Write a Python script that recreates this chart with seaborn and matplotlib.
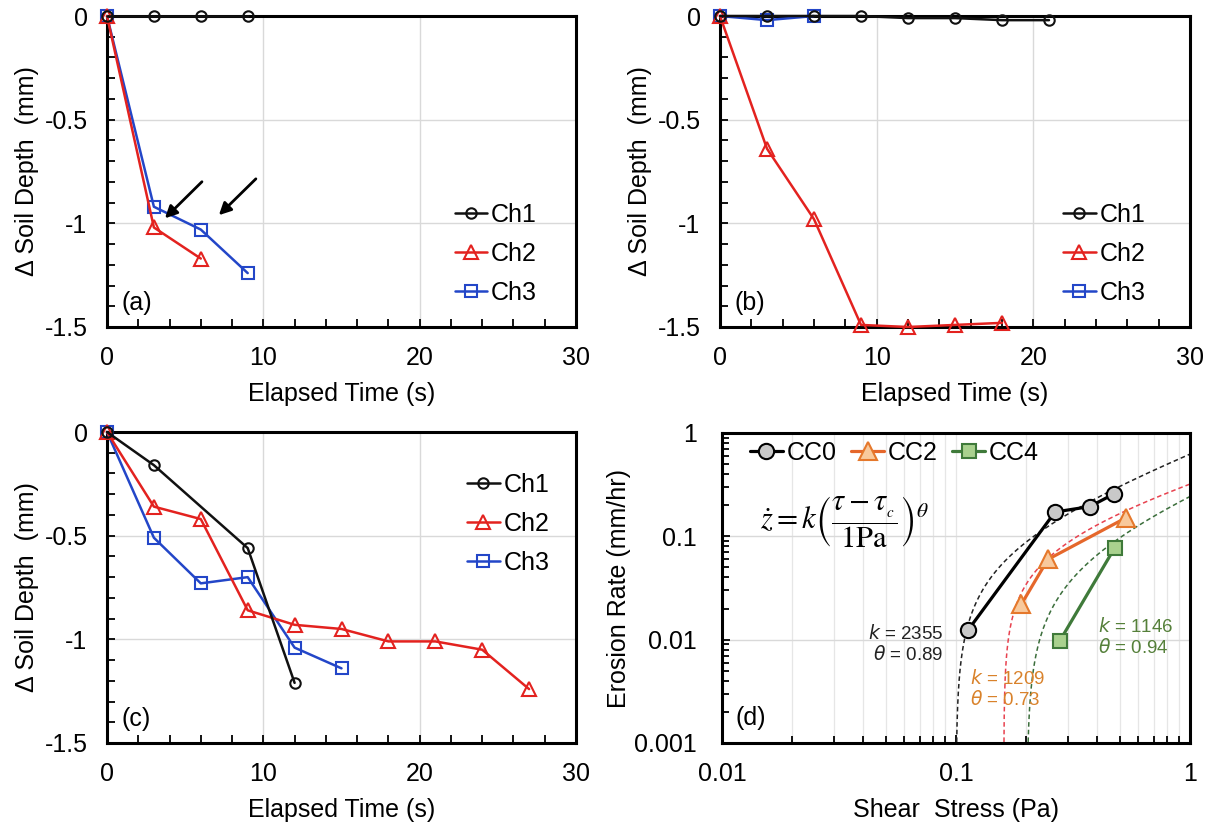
import numpy as np
import matplotlib
matplotlib.use("Agg")
import matplotlib.pyplot as plt
import matplotlib.ticker as mticker
import seaborn as sns

# ---------------- data ----------------
# panel (a)
a_t1 = [0, 3, 6, 9];        a_ch1 = [0, 0, 0, 0]
a_t2 = [0, 3, 6];           a_ch2 = [0, -1.02, -1.17]
a_t3 = [0, 3, 6, 9];        a_ch3 = [0, -0.92, -1.03, -1.24]
# panel (b)
b_t1 = [0, 3, 6, 9, 12, 15, 18, 21]; b_ch1 = [0, 0, 0, 0, -0.01, -0.01, -0.02, -0.02]
b_t2 = [0, 3, 6, 9, 12, 15, 18];     b_ch2 = [0, -0.64, -0.98, -1.49, -1.50, -1.49, -1.48]
b_t3 = [0, 3, 6];                    b_ch3 = [0, -0.02, 0]
# panel (c)
c_t1 = [0, 3, 9, 12];                c_ch1 = [0, -0.16, -0.56, -1.21]
c_t2 = [0, 3, 6, 9, 12, 15, 18, 21, 24, 27]
c_ch2 = [0, -0.36, -0.42, -0.86, -0.93, -0.95, -1.01, -1.01, -1.05, -1.24]
c_t3 = [0, 3, 6, 9, 12, 15];         c_ch3 = [0, -0.51, -0.73, -0.70, -1.04, -1.14]
# panel (d)
cc0_tau = [0.113, 0.265, 0.373, 0.474]; cc0_rate = [0.0125, 0.172, 0.194, 0.258]
cc2_tau = [0.190, 0.247, 0.535];        cc2_rate = [0.0219, 0.0598, 0.152]
cc4_tau = [0.277, 0.477];               cc4_rate = [0.00964, 0.0776]
# fitted excess-shear model curves: rate = A * (tau - tau_c)^theta
fit_names = ["CC0", "CC2", "CC4"]
fit_k = [2355, 1209, 1146]
fit_theta = [0.89, 0.73, 0.94]
fit_tau_c = [0.100, 0.160, 0.201]
fit_A = [0.686, 0.364, 0.300]

# ---------------- style ----------------
sns.set_style("white")
plt.rcParams["font.family"] = ["Liberation Sans", "DejaVu Sans"]
plt.rcParams["font.size"] = 18
for key in ["text.color", "axes.labelcolor", "xtick.color", "ytick.color"]:
    plt.rcParams[key] = "black"

BLACK = "#111111"
RED = "#e3221f"
BLUE = "#2346c8"
FS = 18

fig = plt.figure(figsize=(12.12, 8.25), dpi=100)
W, H = 1212, 825
def rect(l, r, t, b):
    return [l / W, 1 - b / H, (r - l) / W, (b - t) / H]

ax_a = fig.add_axes(rect(107, 576, 16, 327))
ax_b = fig.add_axes(rect(720, 1190, 16, 327))
ax_c = fig.add_axes(rect(107, 576, 432, 743))
ax_d = fig.add_axes(rect(722, 1190, 433, 743))


def style_lin(ax, letter):
    ax.set_xlim(0, 30)
    ax.set_ylim(-1.5, 0)
    ax.xaxis.set_major_locator(mticker.MultipleLocator(10))
    ax.xaxis.set_minor_locator(mticker.MultipleLocator(2))
    ax.yaxis.set_major_locator(mticker.MultipleLocator(0.5))
    ax.yaxis.set_minor_locator(mticker.MultipleLocator(0.1))
    ax.yaxis.set_major_formatter(mticker.FuncFormatter(lambda v, p: f"{v:g}"))
    ax.grid(True, which="major", color="#d9d9d9", lw=1.0)
    ax.set_axisbelow(True)
    for s in ax.spines.values():
        s.set_color("black")
        s.set_linewidth(2.2)
    ax.tick_params(which="both", direction="in", bottom=True, left=True,
                   top=False, right=False, width=1.3, labelsize=FS)
    ax.tick_params(which="major", length=6, pad=14)
    ax.tick_params(which="minor", length=6)
    ax.set_xlabel("Elapsed Time (s)", fontsize=FS, labelpad=8)
    ax.set_ylabel("\u0394 Soil Depth  (mm)", fontsize=FS, labelpad=4)
    ax.text(0.03, 0.04, f"({letter})", transform=ax.transAxes, fontsize=FS,
            ha="left", va="bottom")


def draw_ch(ax, t1, y1, t2, y2, t3, y3, leg_xy):
    common = dict(ax=ax, estimator=None, sort=False, lw=1.8, clip_on=False,
                  markerfacecolor="none", markeredgewidth=1.5)
    sns.lineplot(x=t1, y=y1, color=BLACK, marker="o", markersize=7.5,
                 markeredgecolor=BLACK, label="Ch1", zorder=5, **common)
    sns.lineplot(x=t2, y=y2, color=RED, marker="^", markersize=10,
                 markeredgecolor=RED, label="Ch2", zorder=4, **common)
    sns.lineplot(x=t3, y=y3, color=BLUE, marker="s", markersize=8.5,
                 markeredgecolor=BLUE, label="Ch3", zorder=3, **common)
    ax.legend(loc="lower left", bbox_to_anchor=leg_xy, frameon=False,
              fontsize=FS, handlelength=1.3, handletextpad=0.15,
              labelspacing=0.6, borderaxespad=0, borderpad=0)


style_lin(ax_a, "a")
draw_ch(ax_a, a_t1, a_ch1, a_t2, a_ch2, a_t3, a_ch3, (0.742, 0.07))
arrow_tails = [(6.2, -0.79), (9.65, -0.776)]
arrow_heads = [(3.58, -0.985), (7.03, -0.97)]
for tail, head in zip(arrow_tails, arrow_heads):
    ax_a.annotate("", xy=head, xytext=tail,
                  arrowprops=dict(arrowstyle="-|>", color="black", lw=2,
                                  mutation_scale=18))

style_lin(ax_b, "b")
draw_ch(ax_b, b_t1, b_ch1, b_t2, b_ch2, b_t3, b_ch3, (0.73, 0.07))

style_lin(ax_c, "c")
draw_ch(ax_c, c_t1, c_ch1, c_t2, c_ch2, c_t3, c_ch3, (0.768, 0.54))

# ---------------- panel (d) ----------------
ax = ax_d
ax.set_xscale("log")
ax.set_yscale("log")
ax.set_xlim(0.01, 1)
ax.set_ylim(0.001, 1)
fmt = mticker.FuncFormatter(lambda v, p: f"{v:g}")
ax.xaxis.set_major_locator(mticker.LogLocator(base=10, numticks=10))
ax.yaxis.set_major_locator(mticker.LogLocator(base=10, numticks=10))
ax.xaxis.set_minor_locator(mticker.LogLocator(base=10, subs=np.arange(2, 10), numticks=20))
ax.yaxis.set_minor_locator(mticker.LogLocator(base=10, subs=np.arange(2, 10), numticks=20))
ax.xaxis.set_major_formatter(fmt)
ax.yaxis.set_major_formatter(fmt)
ax.xaxis.set_minor_formatter(mticker.NullFormatter())
ax.yaxis.set_minor_formatter(mticker.NullFormatter())
ax.grid(True, which="major", axis="y", color="#d9d9d9", lw=1.0)
ax.grid(True, which="both", axis="x", color="#e6e6e6", lw=0.9)
ax.set_axisbelow(True)
for s in ax.spines.values():
    s.set_color("black")
    s.set_linewidth(2.2)
ax.tick_params(which="both", direction="in", bottom=True, left=True,
               top=False, right=False, width=1.3, labelsize=FS)
ax.tick_params(axis="x", which="major", length=6, pad=14)
ax.tick_params(axis="y", which="major", length=6, pad=18)
ax.tick_params(which="minor", length=5)
ax.set_xlabel("Shear  Stress (Pa)", fontsize=FS, labelpad=8)
ax.set_ylabel("Erosion Rate (mm/hr)", fontsize=FS, labelpad=2)

fit_colors = ["#222222", "#e8424f", "#3b6e3b"]
for tc, A, th, col in zip(fit_tau_c, fit_A, fit_theta, fit_colors):
    tau = tc + np.geomspace(1e-6, 1 - tc, 400)
    sns.lineplot(x=tau, y=A * (tau - tc) ** th, ax=ax, color=col, lw=1.1,
                 linestyle=(0, (3, 2)), estimator=None, sort=False, zorder=2)

sns.lineplot(x=cc0_tau, y=cc0_rate, ax=ax, color="black", lw=2.3, marker="o",
             markersize=11, markerfacecolor="#c9c9c9", markeredgecolor="black",
             markeredgewidth=1.5, estimator=None, sort=False, label="CC0", zorder=5)
sns.lineplot(x=cc2_tau, y=cc2_rate, ax=ax, color="#e5672b", lw=2.3, marker="^",
             markersize=13, markerfacecolor="#f8c99c", markeredgecolor="#e5782b",
             markeredgewidth=1.5, estimator=None, sort=False, label="CC2", zorder=4)
sns.lineplot(x=cc4_tau, y=cc4_rate, ax=ax, color="#3f7a3a", lw=2.3, marker="s",
             markersize=10.5, markerfacecolor="#a9d18e", markeredgecolor="#3f7a3a",
             markeredgewidth=1.5, estimator=None, sort=False, label="CC4", zorder=4)
ax.legend(loc="upper left", bbox_to_anchor=(0.06, 0.975), ncol=3, frameon=False,
          fontsize=FS, handlelength=1.3, handletextpad=0.15, columnspacing=0.6,
          borderaxespad=0, borderpad=0)

ax.text(0.262, 0.712,
        r"$\dot{z} = k\left(\dfrac{\tau - \tau_{_c}}{1\mathrm{Pa}}\right)^{\theta}$",
        transform=ax.transAxes, fontsize=22, ha="center", va="center",
        math_fontfamily="stix")

txt_pos = [(0.088, 0.0091, "right", "#222222"),
           (0.115, 0.00334, "left", "#d9822b"),
           (0.404, 0.01057, "left", "#55803a")]
for (x, y, ha, col), k, th in zip(txt_pos, fit_k, fit_theta):
    ax.text(x, y, f"$k$ = {k}\n$\\theta$ = {th}", fontsize=13.5, color=col,
            ha=ha, va="center", linespacing=1.15, math_fontfamily="dejavusans")

ax.text(0.028, 0.042, "(d)", transform=ax.transAxes, fontsize=FS,
        ha="left", va="bottom")

fig.savefig("out.png", dpi=100)
